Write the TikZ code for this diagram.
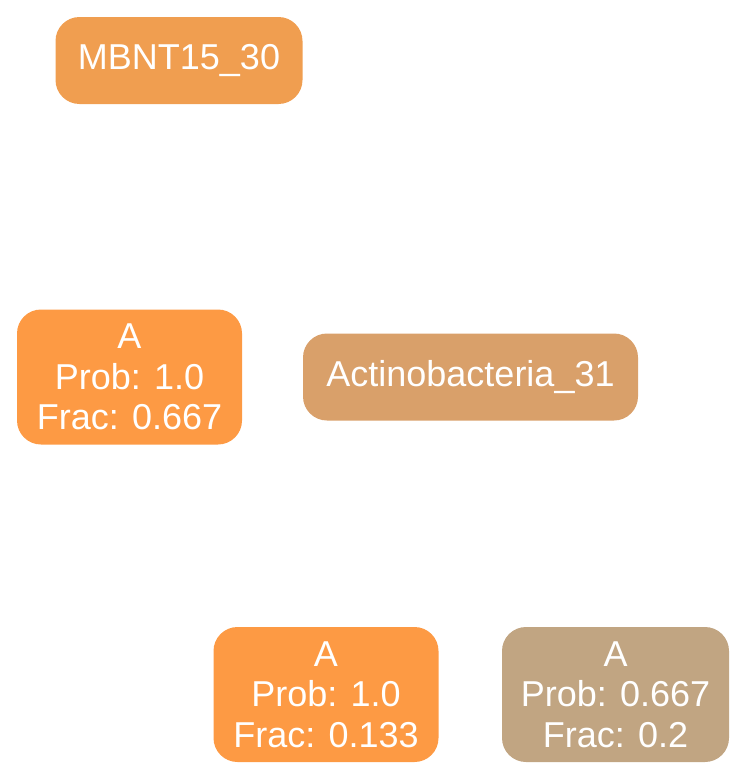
\documentclass[tikz,border=0pt]{standalone}
\usepackage{fontspec}
\setmainfont{Liberation Sans}
\usepackage{xcolor}
\definecolor{CladeA}{HTML}{F09E50}
\definecolor{CladeB}{HTML}{D9A06A}
\definecolor{LeafHi}{HTML}{FD9A44}
\definecolor{LeafLo}{HTML}{C1A582}

\begin{document}
\begin{tikzpicture}[
            x=1pt, y=-1pt,
            taxon/.style={rectangle, rounded corners=24pt, draw=none, fill=CladeA, inner sep=0pt, minimum height=87pt, align=center, font=\fontsize{36}{40.5}\selectfont, text=white},
            leaf/.style={taxon, fill=LeafHi, minimum height=135pt, minimum width=225pt}
        ]
            \useasboundingbox (0,0) rectangle (746,779);
            \node[taxon, minimum width=247pt] (mbnt) at (179,60.5) {MBNT15\_30};
            \node[leaf] (leafa) at (129.5,377) {A\\Prob: 1.0\\Frac: 0.667};
            \node[taxon, fill=CladeB, minimum width=335pt] (actino) at (470.5,377) {Actinobacteria\_31};
            \node[leaf] (leafb) at (326,694.5) {A\\Prob: 1.0\\Frac: 0.133};
            \node[leaf, fill=LeafLo, minimum width=227pt] (leafc) at (615.5,694.5) {A\\Prob: 0.667\\Frac: 0.2};
        \end{tikzpicture}
\end{document}
